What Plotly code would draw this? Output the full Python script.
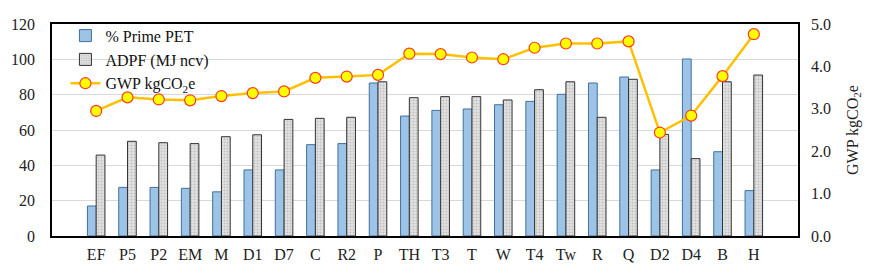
import plotly.graph_objects as go

categories = ["EF", "P5", "P2", "EM", "M", "D1", "D7", "C", "R2", "P", "TH", "T3",
              "T", "W", "T4", "Tw", "R", "Q", "D2", "D4", "B", "H"]
prime_pet = [17, 27.5, 27.5, 27, 25, 37.4, 37.4, 51.7, 52.3, 86.6, 67.9, 71.1,
             71.9, 74.3, 76.2, 80.2, 86.6, 90, 37.4, 100.2, 47.7, 25.7]
adpf = [45.8, 53.6, 52.8, 52.3, 56.2, 57.3, 66, 66.6, 67.2, 87.3, 78.3, 78.9,
        78.9, 77, 82.8, 87.3, 67.2, 88.7, 57.5, 43.8, 87.3, 91.1]
gwp = [2.95, 3.27, 3.22, 3.2, 3.3, 3.37, 3.41, 3.73, 3.76, 3.8, 4.3, 4.29,
       4.21, 4.17, 4.44, 4.54, 4.54, 4.59, 2.44, 2.84, 3.77, 4.76]

left_ticks = [0, 20, 40, 60, 80, 100, 120]
right_ticks = [0, 1, 2, 3, 4, 5]

FONT = "Liberation Serif"

fig = go.Figure()
fig.add_trace(go.Bar(
    x=categories, y=prime_pet, name="% Prime PET",
    marker=dict(color="#9DC3E6", line=dict(color="#41719C", width=1)),
))
fig.add_trace(go.Bar(
    x=categories, y=adpf, name="ADPF (MJ ncv)",
    marker=dict(color="#D9D9D9", line=dict(color="#333333", width=1),
                pattern=dict(shape=".", fgcolor="#A0A0A0", bgcolor="#E2E2E2",
                             size=3, solidity=0.35)),
))
fig.add_trace(go.Scatter(
    x=categories, y=gwp, name="GWP kgCO<sub>2</sub>e", yaxis="y2",
    mode="lines+markers",
    line=dict(color="#FFC000", width=2.5),
    marker=dict(size=11, color="#FFFF00", line=dict(color="#FF3B1F", width=1.2)),
))

fig.update_layout(
    width=870, height=277,
    margin=dict(l=52, r=72, t=24, b=41),
    paper_bgcolor="white", plot_bgcolor="white",
    font=dict(family=FONT, size=16, color="#222222"),
    barmode="group", bargap=0.44, bargroupgap=0,
    showlegend=True,
    legend=dict(x=0.018, y=1.025, xanchor="left", yanchor="top",
                bgcolor="rgba(255,255,255,0)",
                font=dict(family=FONT, size=16, color="#111"),
                tracegroupgap=0, itemwidth=30),
    xaxis=dict(showgrid=False, showline=True, linecolor="black", linewidth=1.5,
               mirror=True, ticks="", tickfont=dict(size=16), ticklabelstandoff=3),
    yaxis=dict(range=[0, 120], tickvals=left_ticks, showgrid=True,
               gridcolor="#D9D9D9", gridwidth=1, showline=True, linecolor="black",
               linewidth=1.5, mirror=True, ticks="", zeroline=False,
               tickfont=dict(size=16), ticklabelstandoff=12),
    yaxis2=dict(range=[0, 5], tickvals=right_ticks, tickformat=".1f",
                overlaying="y", side="right", showgrid=False, zeroline=False,
                ticks="", tickfont=dict(size=16), ticklabelstandoff=12,
                title=dict(text="GWP kgCO<sub>2</sub>e", font=dict(size=16), standoff=16)),
)

fig.write_html("out.html", config={"displayModeBar": False},
               post_script="document.body.style.margin='0';")
